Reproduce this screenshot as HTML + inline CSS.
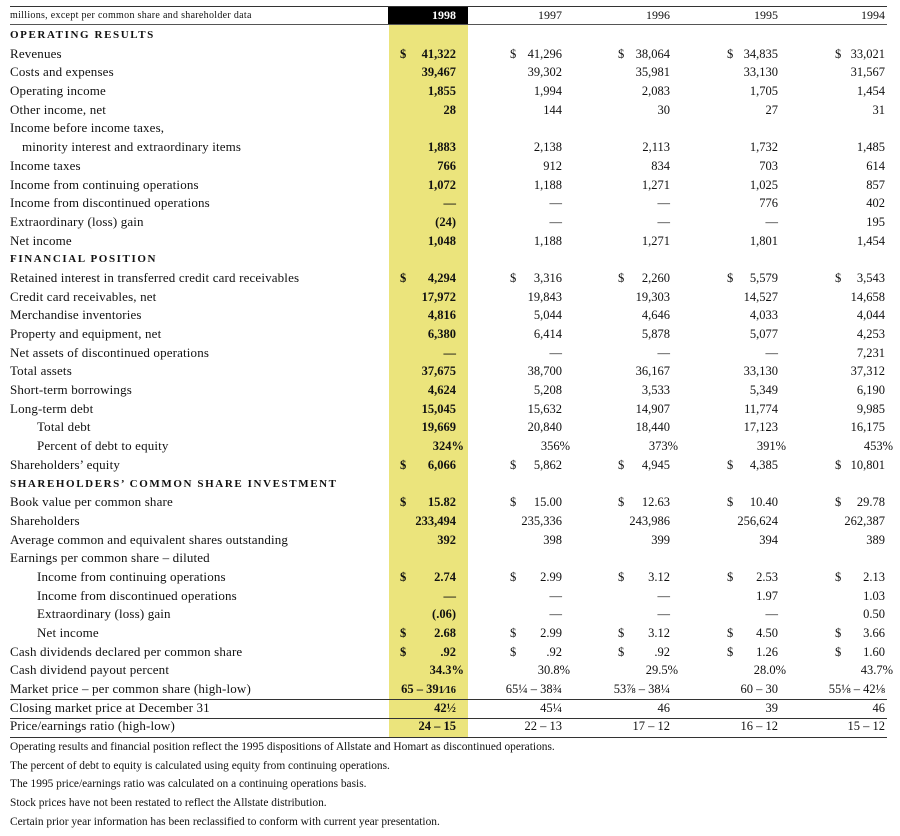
<!DOCTYPE html>
<html><head><meta charset="utf-8"><style>
body{margin:0;background:#fff;width:900px;height:836px;position:relative;overflow:hidden;font-family:"Liberation Serif",serif;color:#111;}
.hl{position:absolute;left:389px;top:25px;width:79px;height:712px;background:#ebe47c;}
.bk{position:absolute;left:388px;top:7px;width:80px;height:17px;background:#000;}
.ln{position:absolute;left:10px;width:877px;height:0;border-top:1px solid #333;}
.rows{position:absolute;left:0;top:26px;width:900px;}
.r{position:relative;height:18.7px;line-height:18.7px;font-size:12.5px;white-space:nowrap;}
.l{position:absolute;left:10px;font-size:13px;letter-spacing:0.15px;}
.i1{left:22px}.i2{left:37px}
.l.s{font-weight:bold;font-size:11px;letter-spacing:1.6px;}
.v,.d{position:absolute;}
.v0,.d0{font-weight:bold}
.v0{right:444px}.v1{right:338px}.v2{right:230px}.v3{right:122px}.v4{right:15px}
.d0{left:400px}.d1{left:510px}.d2{left:618px}.d3{left:727px}.d4{left:835px}
.p{transform:translateX(8px)}
.hd{position:absolute;top:7px;height:17px;line-height:17px;font-size:12px;}
.fn{position:absolute;left:10px;font-size:11.4px;height:18px;line-height:18px;}
</style></head><body>
<div class="hl"></div><div class="bk"></div>
<div class="ln" style="top:6px"></div>
<div class="ln" style="top:24px;border-top:1.5px solid #555"></div>
<div class="hd" style="left:10px;font-size:10px;letter-spacing:0.3px">millions, except per common share and shareholder data</div>
<div class="hd" style="right:444px;color:#fff;font-weight:bold">1998</div>
<div class="hd" style="right:338px">1997</div>
<div class="hd" style="right:230px">1996</div>
<div class="hd" style="right:122px">1995</div>
<div class="hd" style="right:15px">1994</div>
<div class="ln" style="top:699px"></div>
<div class="ln" style="top:718px"></div>
<div class="ln" style="top:737px"></div>
<div class="rows">
<div class="r"><span class="l s">OPERATING RESULTS</span></div>
<div class="r"><span class="l">Revenues</span><span class="d d0">$</span><span class="v v0">41,322</span><span class="d d1">$</span><span class="v v1">41,296</span><span class="d d2">$</span><span class="v v2">38,064</span><span class="d d3">$</span><span class="v v3">34,835</span><span class="d d4">$</span><span class="v v4">33,021</span></div>
<div class="r"><span class="l">Costs and expenses</span><span class="v v0">39,467</span><span class="v v1">39,302</span><span class="v v2">35,981</span><span class="v v3">33,130</span><span class="v v4">31,567</span></div>
<div class="r"><span class="l">Operating income</span><span class="v v0">1,855</span><span class="v v1">1,994</span><span class="v v2">2,083</span><span class="v v3">1,705</span><span class="v v4">1,454</span></div>
<div class="r"><span class="l">Other income, net</span><span class="v v0">28</span><span class="v v1">144</span><span class="v v2">30</span><span class="v v3">27</span><span class="v v4">31</span></div>
<div class="r"><span class="l">Income before income taxes,</span></div>
<div class="r"><span class="l i1">minority interest and extraordinary items</span><span class="v v0">1,883</span><span class="v v1">2,138</span><span class="v v2">2,113</span><span class="v v3">1,732</span><span class="v v4">1,485</span></div>
<div class="r"><span class="l">Income taxes</span><span class="v v0">766</span><span class="v v1">912</span><span class="v v2">834</span><span class="v v3">703</span><span class="v v4">614</span></div>
<div class="r"><span class="l">Income from continuing operations</span><span class="v v0">1,072</span><span class="v v1">1,188</span><span class="v v2">1,271</span><span class="v v3">1,025</span><span class="v v4">857</span></div>
<div class="r"><span class="l">Income from discontinued operations</span><span class="v v0">—</span><span class="v v1">—</span><span class="v v2">—</span><span class="v v3">776</span><span class="v v4">402</span></div>
<div class="r"><span class="l">Extraordinary (loss) gain</span><span class="v v0">(24)</span><span class="v v1">—</span><span class="v v2">—</span><span class="v v3">—</span><span class="v v4">195</span></div>
<div class="r"><span class="l">Net income</span><span class="v v0">1,048</span><span class="v v1">1,188</span><span class="v v2">1,271</span><span class="v v3">1,801</span><span class="v v4">1,454</span></div>
<div class="r"><span class="l s">FINANCIAL POSITION</span></div>
<div class="r"><span class="l">Retained interest in transferred credit card receivables</span><span class="d d0">$</span><span class="v v0">4,294</span><span class="d d1">$</span><span class="v v1">3,316</span><span class="d d2">$</span><span class="v v2">2,260</span><span class="d d3">$</span><span class="v v3">5,579</span><span class="d d4">$</span><span class="v v4">3,543</span></div>
<div class="r"><span class="l">Credit card receivables, net</span><span class="v v0">17,972</span><span class="v v1">19,843</span><span class="v v2">19,303</span><span class="v v3">14,527</span><span class="v v4">14,658</span></div>
<div class="r"><span class="l">Merchandise inventories</span><span class="v v0">4,816</span><span class="v v1">5,044</span><span class="v v2">4,646</span><span class="v v3">4,033</span><span class="v v4">4,044</span></div>
<div class="r"><span class="l">Property and equipment, net</span><span class="v v0">6,380</span><span class="v v1">6,414</span><span class="v v2">5,878</span><span class="v v3">5,077</span><span class="v v4">4,253</span></div>
<div class="r"><span class="l">Net assets of discontinued operations</span><span class="v v0">—</span><span class="v v1">—</span><span class="v v2">—</span><span class="v v3">—</span><span class="v v4">7,231</span></div>
<div class="r"><span class="l">Total assets</span><span class="v v0">37,675</span><span class="v v1">38,700</span><span class="v v2">36,167</span><span class="v v3">33,130</span><span class="v v4">37,312</span></div>
<div class="r"><span class="l">Short-term borrowings</span><span class="v v0">4,624</span><span class="v v1">5,208</span><span class="v v2">3,533</span><span class="v v3">5,349</span><span class="v v4">6,190</span></div>
<div class="r"><span class="l">Long-term debt</span><span class="v v0">15,045</span><span class="v v1">15,632</span><span class="v v2">14,907</span><span class="v v3">11,774</span><span class="v v4">9,985</span></div>
<div class="r"><span class="l i2">Total debt</span><span class="v v0">19,669</span><span class="v v1">20,840</span><span class="v v2">18,440</span><span class="v v3">17,123</span><span class="v v4">16,175</span></div>
<div class="r"><span class="l i2">Percent of debt to equity</span><span class="v v0 p">324%</span><span class="v v1 p">356%</span><span class="v v2 p">373%</span><span class="v v3 p">391%</span><span class="v v4 p">453%</span></div>
<div class="r"><span class="l">Shareholders’ equity</span><span class="d d0">$</span><span class="v v0">6,066</span><span class="d d1">$</span><span class="v v1">5,862</span><span class="d d2">$</span><span class="v v2">4,945</span><span class="d d3">$</span><span class="v v3">4,385</span><span class="d d4">$</span><span class="v v4">10,801</span></div>
<div class="r"><span class="l s">SHAREHOLDERS’ COMMON SHARE INVESTMENT</span></div>
<div class="r"><span class="l">Book value per common share</span><span class="d d0">$</span><span class="v v0">15.82</span><span class="d d1">$</span><span class="v v1">15.00</span><span class="d d2">$</span><span class="v v2">12.63</span><span class="d d3">$</span><span class="v v3">10.40</span><span class="d d4">$</span><span class="v v4">29.78</span></div>
<div class="r"><span class="l">Shareholders</span><span class="v v0">233,494</span><span class="v v1">235,336</span><span class="v v2">243,986</span><span class="v v3">256,624</span><span class="v v4">262,387</span></div>
<div class="r"><span class="l">Average common and equivalent shares outstanding</span><span class="v v0">392</span><span class="v v1">398</span><span class="v v2">399</span><span class="v v3">394</span><span class="v v4">389</span></div>
<div class="r"><span class="l">Earnings per common share – diluted</span></div>
<div class="r"><span class="l i2">Income from continuing operations</span><span class="d d0">$</span><span class="v v0">2.74</span><span class="d d1">$</span><span class="v v1">2.99</span><span class="d d2">$</span><span class="v v2">3.12</span><span class="d d3">$</span><span class="v v3">2.53</span><span class="d d4">$</span><span class="v v4">2.13</span></div>
<div class="r"><span class="l i2">Income from discontinued operations</span><span class="v v0">—</span><span class="v v1">—</span><span class="v v2">—</span><span class="v v3">1.97</span><span class="v v4">1.03</span></div>
<div class="r"><span class="l i2">Extraordinary (loss) gain</span><span class="v v0">(.06)</span><span class="v v1">—</span><span class="v v2">—</span><span class="v v3">—</span><span class="v v4">0.50</span></div>
<div class="r"><span class="l i2">Net income</span><span class="d d0">$</span><span class="v v0">2.68</span><span class="d d1">$</span><span class="v v1">2.99</span><span class="d d2">$</span><span class="v v2">3.12</span><span class="d d3">$</span><span class="v v3">4.50</span><span class="d d4">$</span><span class="v v4">3.66</span></div>
<div class="r"><span class="l">Cash dividends declared per common share</span><span class="d d0">$</span><span class="v v0">.92</span><span class="d d1">$</span><span class="v v1">.92</span><span class="d d2">$</span><span class="v v2">.92</span><span class="d d3">$</span><span class="v v3">1.26</span><span class="d d4">$</span><span class="v v4">1.60</span></div>
<div class="r"><span class="l">Cash dividend payout percent</span><span class="v v0 p">34.3%</span><span class="v v1 p">30.8%</span><span class="v v2 p">29.5%</span><span class="v v3 p">28.0%</span><span class="v v4 p">43.7%</span></div>
<div class="r"><span class="l">Market price – per common share (high-low)</span><span class="v v0">65 – 39<small>1⁄16</small></span><span class="v v1">65¼ – 38¾</span><span class="v v2">53⅞ – 38¼</span><span class="v v3">60 – 30</span><span class="v v4">55⅛ – 42⅛</span></div>
<div class="r"><span class="l">Closing market price at December 31</span><span class="v v0">42½</span><span class="v v1">45¼</span><span class="v v2">46</span><span class="v v3">39</span><span class="v v4">46</span></div>
<div class="r"><span class="l">Price/earnings ratio (high-low)</span><span class="v v0">24 – 15</span><span class="v v1">22 – 13</span><span class="v v2">17 – 12</span><span class="v v3">16 – 12</span><span class="v v4">15 – 12</span></div>
</div>
<div class="fn" style="top:738px">Operating results and financial position reflect the 1995 dispositions of Allstate and Homart as discontinued operations.</div>
<div class="fn" style="top:757px">The percent of debt to equity is calculated using equity from continuing operations.</div>
<div class="fn" style="top:775px">The 1995 price/earnings ratio was calculated on a continuing operations basis.</div>
<div class="fn" style="top:794px">Stock prices have not been restated to reflect the Allstate distribution.</div>
<div class="fn" style="top:813px">Certain prior year information has been reclassified to conform with current year presentation.</div>
</body></html>
